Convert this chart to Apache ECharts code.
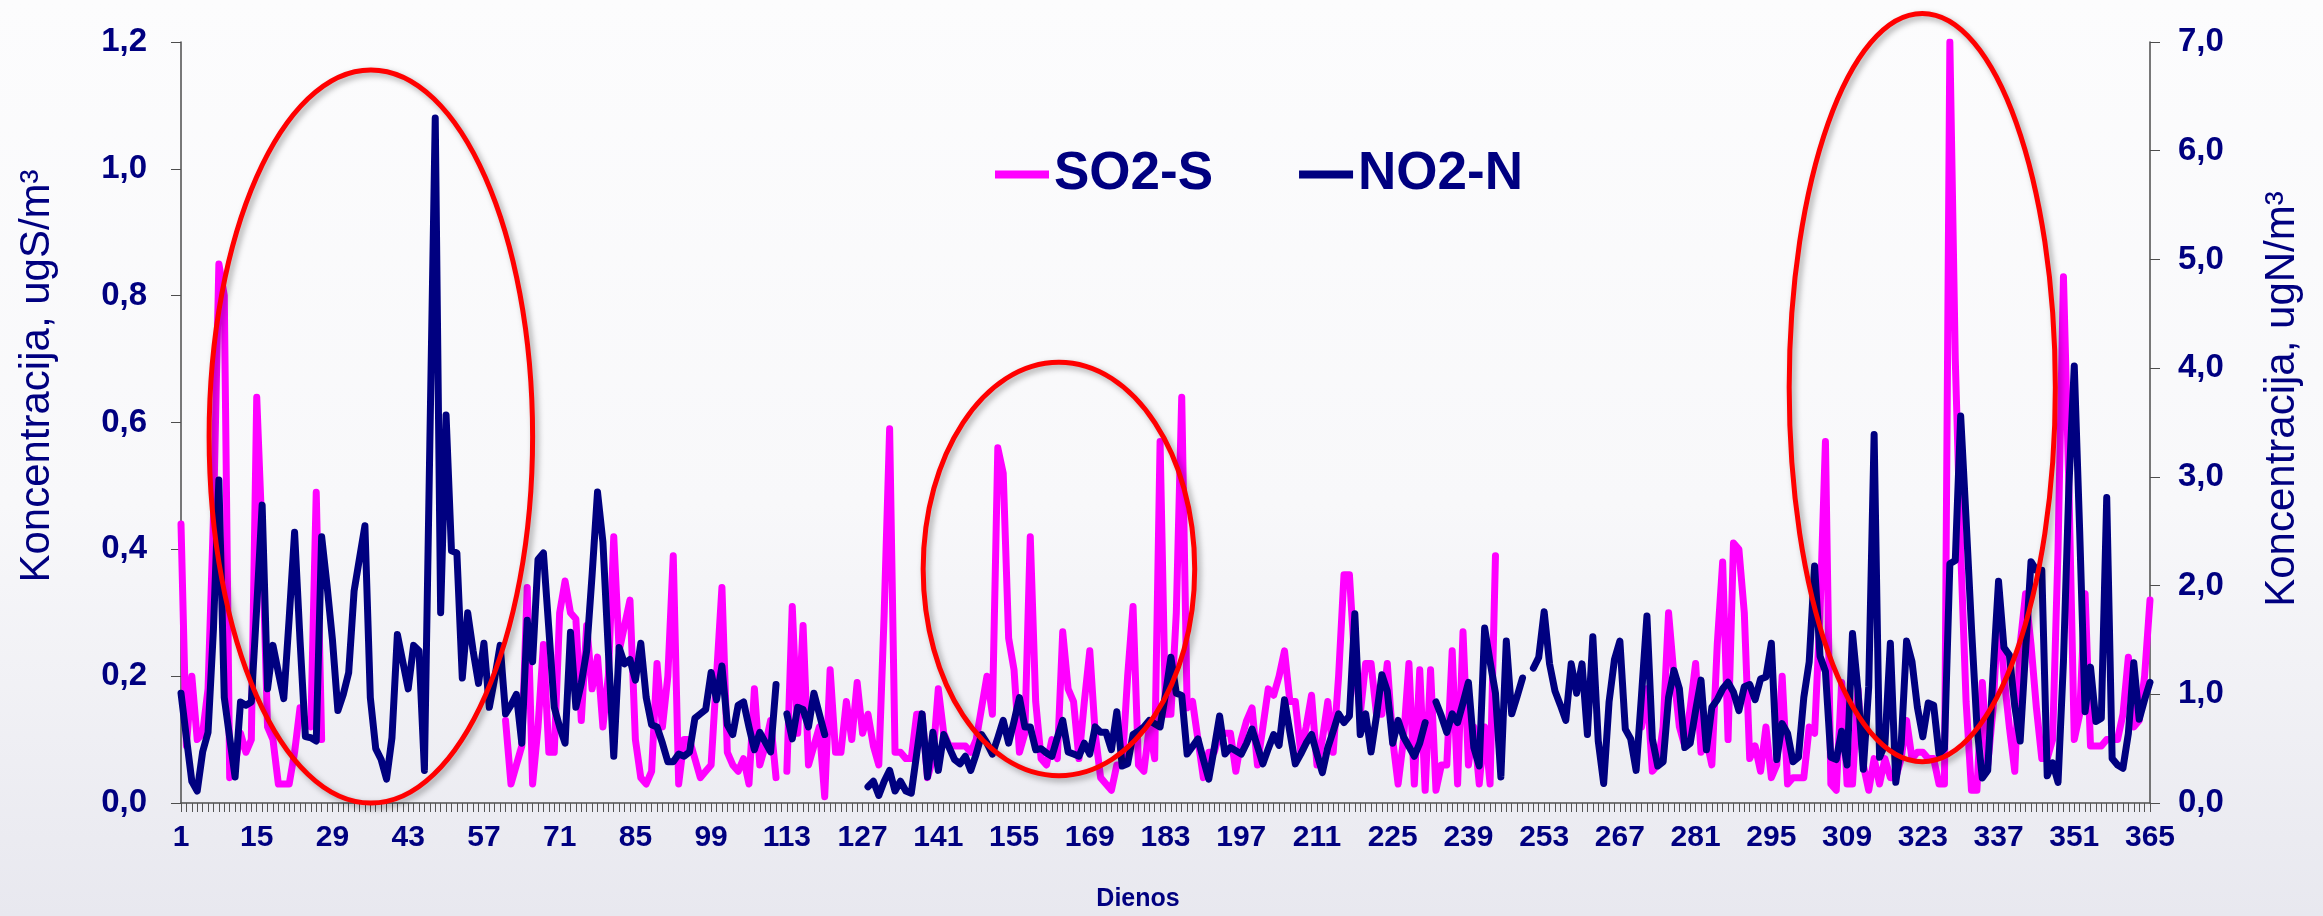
<!DOCTYPE html>
<html>
<head>
<meta charset="utf-8">
<script src="https://cdn.jsdelivr.net/npm/echarts@6/dist/echarts.min.js"></script>
<style>
html,body{margin:0;padding:0;}
#chart{width:2323px;height:916px;}
</style>
</head>
<body>
<div id="chart"></div>
<script>
// ---- categories (days of year) ----
const days = [];
for (let i = 1; i <= 365; i++) days.push(String(i));

// ---- SO2-S, ugS/m3 (left axis) ----
const so2 = [
0.44,0.09,0.20,0.10,0.11,0.18,0.45,0.85,0.80,0.04,
0.06,0.11,0.08,0.10,0.64,0.42,0.12,0.10,0.03,0.03,
0.03,0.08,0.15,0.13,0.12,0.49,0.10,null,null,null,
null,null,null,null,null,null,null,null,null,null,
null,null,null,null,null,null,null,null,null,null,
null,null,null,null,null,null,null,null,null,null,
0.13,0.03,0.06,0.09,0.34,0.03,0.12,0.25,0.08,0.08,
0.30,0.35,0.30,0.29,0.13,0.28,0.18,0.23,0.12,0.20,
0.42,0.24,0.28,0.32,0.10,0.04,0.03,0.05,0.22,0.12,
0.20,0.39,0.03,0.10,0.10,0.07,0.04,0.05,0.06,0.20,
0.34,0.08,0.06,0.05,0.07,0.03,0.18,0.06,0.09,0.13,
0.04,null,0.05,0.31,0.11,0.28,0.06,0.09,0.12,0.01,
0.21,0.08,0.08,0.16,0.10,0.19,0.11,0.14,0.09,0.06,
0.30,0.59,0.08,0.08,0.07,0.07,0.14,0.14,0.04,0.07,
0.18,0.11,0.09,0.09,0.09,0.09,0.08,0.10,0.15,0.20,
0.14,0.56,0.52,0.26,0.21,0.08,0.11,0.42,0.16,0.07,
0.06,0.10,0.07,0.27,0.18,0.16,0.07,0.16,0.24,0.11,
0.04,0.03,0.02,0.06,0.06,0.20,0.31,0.06,0.05,0.12,
0.07,0.57,0.14,0.14,0.30,0.64,0.15,0.16,0.10,0.04,
0.08,0.08,0.11,0.11,0.11,0.05,0.10,0.13,0.15,0.06,
0.12,0.18,0.17,0.20,0.24,0.16,0.16,0.08,0.12,0.17,
0.06,0.10,0.16,0.08,0.20,0.36,0.36,0.22,0.14,0.22,
0.22,0.14,0.14,0.22,0.10,0.03,0.10,0.22,0.03,0.21,
0.02,0.21,0.02,0.06,0.06,0.24,0.03,0.27,0.06,0.12,
0.03,0.12,0.03,0.39,null,null,null,null,null,null,
null,null,null,null,null,null,null,null,null,null,
null,null,null,null,null,null,null,null,null,null,
0.12,0.18,0.05,0.06,0.12,0.30,0.20,0.12,0.09,0.15,
0.22,0.08,0.10,0.06,0.25,0.38,0.10,0.41,0.40,0.30,
0.07,0.09,0.05,0.12,0.04,0.06,0.20,0.03,0.04,0.04,
0.04,0.12,0.11,0.30,0.57,0.03,0.02,0.19,0.03,0.03,
0.18,0.06,0.02,0.07,0.03,0.07,0.04,0.04,0.07,0.13,
0.07,0.08,0.08,0.07,0.07,0.03,0.03,1.20,0.70,0.40,
0.16,0.02,0.02,0.19,0.06,0.15,0.31,0.20,0.12,0.05,
0.25,0.33,0.25,0.15,0.07,0.07,0.10,0.40,0.83,0.50,
0.10,0.14,0.33,0.09,0.09,0.09,0.10,0.10,0.10,0.14,
0.23,0.12,0.13,0.20,0.32
];

// ---- NO2-N, ugN/m3 (right axis) ----
const no2 = [
1.01,0.60,0.20,0.11,0.47,0.65,1.60,2.97,0.97,0.60,
0.24,0.93,0.90,0.93,1.80,2.74,1.05,1.45,1.20,0.96,
1.70,2.49,1.50,0.61,0.60,0.57,2.45,2.00,1.50,0.85,
1.00,1.20,1.95,2.25,2.55,0.97,0.50,0.40,0.22,0.60,
1.55,1.30,1.05,1.45,1.40,0.30,3.30,6.30,1.75,3.57,
2.32,2.30,1.15,1.75,1.40,1.10,1.47,0.88,1.15,1.45,
0.82,0.90,1.00,0.55,1.68,1.30,2.24,2.30,1.60,0.88,
0.70,0.55,1.57,0.88,1.10,1.40,2.10,2.86,2.40,1.40,
0.43,1.43,1.28,1.32,1.13,1.47,0.97,0.72,0.70,0.55,
0.38,0.38,0.45,0.43,0.47,0.78,0.82,0.86,1.20,0.95,
1.26,0.72,0.63,0.90,0.93,0.70,0.49,0.65,0.56,0.47,
1.09,null,0.82,0.59,0.88,0.86,0.70,1.01,0.82,0.63,
null,null,null,null,null,null,null,0.15,0.20,0.07,
0.20,0.30,0.11,0.20,0.11,0.09,0.45,0.82,0.24,0.65,
0.30,0.63,0.51,0.40,0.36,0.43,0.30,0.45,0.63,0.55,
0.45,0.60,0.76,0.55,0.75,0.97,0.70,0.70,0.49,0.50,
0.46,0.43,0.60,0.76,0.47,0.45,0.43,0.55,0.45,0.70,
0.65,0.65,0.49,0.84,0.34,0.36,0.63,0.66,0.70,0.76,
0.73,0.70,1.00,1.34,1.01,0.99,0.45,0.52,0.59,0.40,
0.22,0.50,0.80,0.45,0.51,0.48,0.45,0.55,0.68,0.52,
0.36,0.50,0.63,0.53,0.95,0.65,0.36,0.45,0.55,0.63,
0.45,0.28,0.51,0.66,0.82,0.74,0.80,1.74,0.63,0.82,
0.47,0.80,1.18,1.03,0.55,0.76,0.61,0.52,0.43,0.55,
0.74,null,0.93,0.80,0.65,0.82,0.74,0.92,1.11,0.51,
0.34,1.61,1.30,1.01,0.24,1.49,0.82,0.98,1.15,null,
1.24,1.34,1.76,1.28,1.03,0.90,0.76,1.28,1.01,1.28,
0.63,1.53,0.57,0.18,0.93,1.32,1.49,0.68,0.59,0.30,
0.99,1.72,0.59,0.34,0.38,0.97,1.22,1.05,0.51,0.55,
0.85,1.13,0.49,0.88,0.95,1.05,1.11,1.02,0.85,1.07,
1.09,0.95,1.14,1.16,1.47,0.40,0.73,0.64,0.38,0.42,
0.97,1.30,2.18,1.35,1.21,0.42,0.40,0.66,0.35,1.56,
1.04,0.31,1.07,3.39,0.42,0.54,1.47,0.19,0.54,1.49,
1.30,0.88,0.61,0.92,0.90,0.45,0.50,2.20,2.23,3.56,
2.61,1.61,0.71,0.23,0.30,1.20,2.04,1.43,1.36,0.89,
0.57,1.40,2.22,2.14,2.14,0.25,0.37,0.19,1.30,2.90,
4.02,2.50,0.84,1.25,0.75,0.78,2.81,0.41,0.35,0.32,
0.64,1.29,0.77,0.95,1.11
];

// ---- axis tick values ----
const leftTicks = { min: 0, max: 1.2, interval: 0.2 };
const rightTicks = { min: 0, max: 7, interval: 1 };

// ---- texts ----
const seriesNames = ['SO2-S', 'NO2-N'];
const leftAxisName = 'Koncentracija, ugS/m³';
const rightAxisName = 'Koncentracija, ugN/m³';
const xAxisName = 'Dienos';

// ---- highlighted regions (day centre, value centre, half-width in days, half-height in ugS/m3) ----
const highlightDays = [36.1, 163.3, 322.9];
const highlightValues = [0.578, 0.369, 0.655];
const highlightHalfDays = [29.9, 25.1, 24.6];
const highlightHalfValues = [0.578, 0.326, 0.590];

const NAVY = '#000080';
const MAGENTA = '#FF00FF';
const FONT = '"Liberation Sans", Arial, sans-serif';
const fmt = v => v.toFixed(1).replace('.', ',');

const chart = echarts.init(document.getElementById('chart'), null, { renderer: 'canvas' });

const option = {
  animation: false,
  backgroundColor: {
    type: 'linear', x: 0, y: 0, x2: 0, y2: 1,
    colorStops: [
      { offset: 0, color: '#fcfcfd' },
      { offset: 0.55, color: '#f8f8fa' },
      { offset: 1, color: '#e8e8ef' }
    ]
  },
  textStyle: { fontFamily: FONT },
  grid: { left: 181, right: 173, top: 42, bottom: 113, containLabel: false },
  legend: {
    data: seriesNames,
    left: 990, top: 143,
    icon: 'rect', itemWidth: 54, itemHeight: 8, itemGap: 86,
    textStyle: { color: NAVY, fontSize: 53, fontWeight: 'bold', fontFamily: FONT }
  },
  xAxis: {
    type: 'category',
    data: days,
    boundaryGap: false,
    axisLine: { show: true, lineStyle: { color: '#4d4d4d', width: 1.5 } },
    axisTick: { show: true, interval: 0, length: 9, lineStyle: { color: '#555', width: 1 } },
    axisLabel: { interval: 13, color: NAVY, fontSize: 30, fontWeight: 'bold', margin: 20, fontFamily: FONT },
    splitLine: { show: false }
  },
  yAxis: [
    {
      type: 'value', min: leftTicks.min, max: leftTicks.max, interval: leftTicks.interval,
      axisLine: { show: true, lineStyle: { color: '#4d4d4d', width: 1.5 } },
      axisTick: { show: true, length: 10, lineStyle: { color: '#4d4d4d' } },
      axisLabel: { color: NAVY, fontSize: 33, fontWeight: 'bold', margin: 34, formatter: fmt, fontFamily: FONT },
      splitLine: { show: false }
    },
    {
      type: 'value', position: 'right', min: rightTicks.min, max: rightTicks.max, interval: rightTicks.interval,
      axisLine: { show: true, lineStyle: { color: '#4d4d4d', width: 1.5 } },
      axisTick: { show: true, length: 10, lineStyle: { color: '#4d4d4d' } },
      axisLabel: { color: NAVY, fontSize: 33, fontWeight: 'bold', margin: 28, formatter: fmt, fontFamily: FONT },
      splitLine: { show: false }
    }
  ],
  series: [
    {
      name: seriesNames[0], type: 'line', yAxisIndex: 0, data: so2,
      symbol: 'none', connectNulls: false, color: MAGENTA,
      lineStyle: { color: MAGENTA, width: 7, cap: 'round', join: 'round' }
    },
    {
      name: seriesNames[1], type: 'line', yAxisIndex: 1, data: no2,
      symbol: 'none', connectNulls: false, color: NAVY,
      lineStyle: { color: NAVY, width: 7, cap: 'round', join: 'round' }
    }
  ]
};

chart.setOption(option);

// place annotations through the chart's own scales
const xFirst = chart.convertToPixel({ xAxisIndex: 0 }, days[0]);
const xLast = chart.convertToPixel({ xAxisIndex: 0 }, days[days.length - 1]);
const dayToX = d => xFirst + (d - 1) / (days.length - 1) * (xLast - xFirst);
const valToY = v => chart.convertToPixel({ yAxisIndex: 0 }, v);
const pxPerDay = (xLast - xFirst) / (days.length - 1);
const pxPerVal = valToY(0) - valToY(1);

const graphics = [];
for (let i = 0; i < highlightDays.length; i++) {
  graphics.push({
    type: 'ellipse', id: 'hl' + i, z: 100, silent: true,
    shape: {
      cx: dayToX(highlightDays[i]), cy: valToY(highlightValues[i]),
      rx: highlightHalfDays[i] * pxPerDay, ry: highlightHalfValues[i] * pxPerVal
    },
    style: {
      fill: 'none', stroke: '#FF0000', lineWidth: 5,
      shadowBlur: 6, shadowColor: 'rgba(0,0,0,0.35)', shadowOffsetX: 3, shadowOffsetY: 3
    }
  });
}
graphics.push({
  type: 'text', id: 'lname', x: 37, y: 376, rotation: Math.PI / 2, z: 50,
  style: { text: leftAxisName, fill: NAVY, font: '42px ' + FONT, align: 'center', verticalAlign: 'middle' }
});
graphics.push({
  type: 'text', id: 'rname', x: 2282, y: 399, rotation: Math.PI / 2, z: 50,
  style: { text: rightAxisName, fill: NAVY, font: '42px ' + FONT, align: 'center', verticalAlign: 'middle' }
});
graphics.push({
  type: 'text', id: 'xname', x: 1138, y: 899, z: 50,
  style: { text: xAxisName, fill: NAVY, font: 'bold 25px ' + FONT, align: 'center', verticalAlign: 'middle' }
});
chart.setOption({ graphic: { elements: graphics } });
</script>
</body>
</html>
